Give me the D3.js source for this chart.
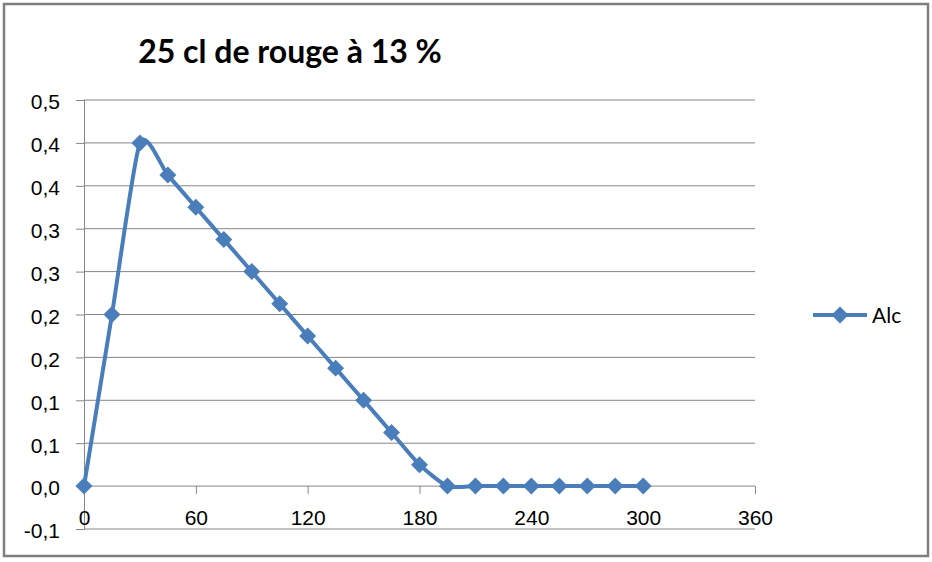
<!DOCTYPE html>
<html>
<head>
<meta charset="utf-8">
<script src="https://cdn.jsdelivr.net/npm/d3@7"></script>
<style>
  body { margin: 0; background: #fff; }
  svg { display: block; font-family: Lato, "Open Sans", sans-serif; }
</style>
</head>
<body>
<div class="js-chart"></div>
<script>
'use strict';

//chart data - minutes after drinking, alcohol level
var minutes = [0, 15, 30, 45, 60, 75, 90, 105, 120, 135, 150, 165, 180, 195, 210, 225, 240, 255, 270, 285, 300];
var alc = [0, 0.2, 0.4, 0.3625, 0.325, 0.2875, 0.25, 0.2125, 0.175, 0.1375, 0.1, 0.0625, 0.025, 0, 0, 0, 0, 0, 0, 0, 0];
var seriesName = 'Alc';
var title = '25 cl de rouge à 13 %';

//axis ticks as Excel shows them (one decimal, comma)
var xTicks = [0, 60, 120, 180, 240, 300, 360];
var yTicks = [-0.05, 0, 0.05, 0.1, 0.15, 0.2, 0.25, 0.3, 0.35, 0.4, 0.45];
var yTickLabels = ['-0,1', '0,0', '0,1', '0,1', '0,2', '0,2', '0,3', '0,3', '0,4', '0,4', '0,5'];

var blue = '#4a7ebb';
var grid = '#868686';

var W = 932, H = 562;
var svg = d3.select('.js-chart').append('svg')
    .attr('width', W)
    .attr('height', H);

//chart frame
svg.append('rect')
    .attr('x', 4).attr('y', 4)
    .attr('width', 924).attr('height', 552)
    .style('fill', '#fff')
    .style('stroke', '#7f7f7f')
    .style('stroke-width', 2.5);

var x = d3.scaleLinear().domain([0, 360]).range([84, 755]);
var y = d3.scaleLinear().domain([-0.05, 0.45]).range([529, 100]);

//title
svg.append('text')
    .attr('x', 290).attr('y', 63)
    .attr('text-anchor', 'middle')
    .style('font-size', '32px')
    .style('font-weight', 'bold')
    .text(title);

//horizontal grid lines
svg.append('g').selectAll('line')
    .data(yTicks)
    .enter()
    .append('line')
    .attr('x1', x(0)).attr('x2', x(360))
    .attr('y1', function (d) { return y(d); })
    .attr('y2', function (d) { return y(d); })
    .style('stroke', grid)
    .style('stroke-width', 1);

//y axis with left ticks
var yAxis = d3.axisLeft(y)
    .tickValues(yTicks)
    .tickSize(8)
    .tickFormat(function (d, i) { return yTickLabels[i]; });
var gy = svg.append('g')
    .attr('transform', 'translate(' + x(0) + ',0)')
    .call(yAxis);
gy.select('.domain').style('stroke', grid);
gy.selectAll('.tick line').style('stroke', grid);
gy.selectAll('.tick text')
    .attr('x', -24)
    .attr('dy', '0.42em')
    .style('font-size', '21px')
    .style('fill', '#000');

//x axis on the zero line
var xAxis = d3.axisBottom(x)
    .tickValues(xTicks)
    .tickSize(8)
    .tickPadding(16);
var gx = svg.append('g')
    .attr('transform', 'translate(0,' + y(0) + ')')
    .call(xAxis);
gx.select('.domain').remove();
gx.selectAll('.tick line').style('stroke', grid);
gx.selectAll('.tick text')
    .style('font-size', '21px')
    .style('fill', '#000');

//smoothed series line (excel-like, mild overshoot)
var pts = minutes.map(function (m, i) { return [m, alc[i]]; });
var line = d3.line()
    .x(function (d) { return x(d[0]); })
    .y(function (d) { return y(d[1]); })
    .curve(d3.curveCardinal.tension(0.35));

svg.append('path')
    .datum(pts)
    .attr('d', line)
    .style('fill', 'none')
    .style('stroke', blue)
    .style('stroke-width', 4)
    .style('stroke-linejoin', 'round');

//diamond markers
var diamond = d3.symbol().type(d3.symbolSquare).size(144);
svg.append('g').selectAll('path')
    .data(pts)
    .enter()
    .append('path')
    .attr('d', diamond)
    .attr('transform', function (d) {
        return 'translate(' + x(d[0]) + ',' + y(d[1]) + ') rotate(45)';
    })
    .style('fill', blue);

//legend
var lg = svg.append('g').attr('transform', 'translate(813,315)');
lg.append('line')
    .attr('x1', 0).attr('x2', 54)
    .style('stroke', blue)
    .style('stroke-width', 4);
lg.append('path')
    .attr('d', diamond)
    .attr('transform', 'translate(27,0) rotate(45)')
    .style('fill', blue);
lg.append('text')
    .attr('x', 59).attr('dy', '0.36em')
    .style('font-size', '21px')
    .text(seriesName);
</script>
</body>
</html>
